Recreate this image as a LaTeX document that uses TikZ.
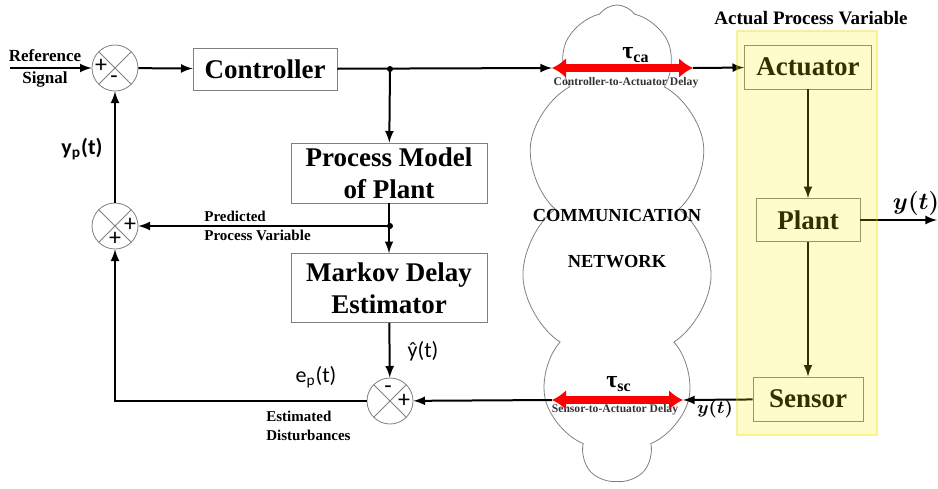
\documentclass[tikz,border=0pt]{standalone}
\usepackage{fontspec}
\setmainfont{Liberation Serif}
\newfontfamily\calib{Carlito}
\usepackage{bm}
\usetikzlibrary{arrows,arrows.meta,positioning,shapes,shapes.symbols}

\begin{document}
\begin{tikzpicture}[x=0.5pt,y=-0.5pt,
            block/.style={draw=gray,rectangle,inner sep=0pt,align=center,font=\fontsize{13.5}{16}\selectfont\bfseries},
            sumnode/.style={draw=gray,circle,minimum size=23pt,inner sep=0pt,
              path picture={\draw[gray] (path picture bounding box.north west) -- (path picture bounding box.south east)
                (path picture bounding box.north east) -- (path picture bounding box.south west);}},
            sgn/.style={inner sep=0pt,font=\calib\fontsize{12}{12}\selectfont},
            lab/.style={inner sep=0pt,align=left,font=\fontsize{7.5}{9.5}\selectfont\bfseries},
            sig/.style={inner sep=0pt,font=\calib\fontsize{11}{12}\selectfont},
            tiny/.style={inner sep=0pt,font=\fontsize{5.8}{7}\selectfont\bfseries,text=black!80},
            taulab/.style={inner sep=0pt,font=\fontsize{12}{12}\selectfont\bfseries},
            conn/.style={draw,line width=1pt,->,>=latex},
            delay/.style={draw=red,line width=4pt,{Latex[length=7pt,width=10pt]}-{Latex[length=7pt,width=10pt]}}
          ]
          \useasboundingbox (0,0) rectangle (938,488);

          % network cloud
          \node[cloud,draw=gray,cloud puffs=11,cloud puff arc=110,aspect=0.38,minimum width=95pt,minimum height=238pt,inner sep=0pt] (net) at (617,243) {};
          \node[font=\fontsize{9.2}{10}\selectfont\bfseries,inner sep=0pt] (comm) at (617,215) {COMMUNICATION};
          \node[font=\fontsize{9.2}{10}\selectfont\bfseries,inner sep=0pt] (netw) at (617,262) {NETWORK};

          % controller side
          \node[sumnode] (s1) at (115,68) {};
          \node[sumnode] (s2) at (115,226) {};
          \node[sumnode] (s3) at (390,401) {};
          \node[block,minimum width=72pt,minimum height=21pt] (ctrl) at (265,69) {Controller};
          \node[block,minimum width=98pt,minimum height=30pt] (pm) at (389,173) {Process Model\\of Plant};
          \node[block,minimum width=98pt,minimum height=34.5pt] (mde) at (389,288) {Markov Delay\\Estimator};
          \coordinate (j1) at (390,69);
          \coordinate (j2) at (390,226);
          \coordinate (refin) at (10,68);

          % signs
          \node[sgn] (s1a) at (101,66) {+};
          \node[sgn] (s1b) at (114,80) {-};
          \node[sgn] (s2a) at (130,225) {+};
          \node[sgn] (s2b) at (115,239) {+};
          \node[sgn] (s3a) at (388,390) {-};
          \node[sgn] (s3b) at (404,401) {+};

          % plant side
          \node[block,minimum width=63.5pt,minimum height=22pt] (act) at (808,67) {Actuator};
          \node[block,minimum width=52pt,minimum height=21.5pt] (plant) at (808,220) {Plant};
          \node[block,minimum width=55pt,minimum height=22pt] (sens) at (808,399) {Sensor};
          \coordinate (yout) at (937,220);
          \coordinate (ca1) at (552,68);
          \coordinate (ca2) at (693,68);
          \coordinate (sc1) at (552,400);
          \coordinate (sc2) at (683,400);

          %labels
          \node[font=\fontsize{8.5}{11}\selectfont\bfseries,align=center,inner sep=0pt] (ref) at (45,68) {Reference\\Signal};
          \node[sig,font=\calib\bfseries\fontsize{11}{12}\selectfont] (yp) at (82,149) {y\textsubscript{p}(t)};
          \node[lab,anchor=west] (pred) at (204,226) {Predicted\\Process Variable};
          \node[lab,anchor=west] (est) at (266,426) {Estimated\\Disturbances};
          \node[sig] (yhat) at (423,351) {\^{y}(t)};
          \node[sig] (ep) at (316,377) {e\textsubscript{p}(t)};
          \node[font=\fontsize{9.5}{11}\selectfont\bfseries,inner sep=0pt] (apv) at (811,18) {Actual Process Variable};
          \node[inner sep=0pt,font=\fontsize{12}{12}\selectfont] (yt1) at (916,203) {$\bm{y(t)}$};
          \node[inner sep=0pt,font=\fontsize{9.5}{10}\selectfont] (yt2) at (715,409) {$\bm{y(t)}$};
          \node[taulab] (tca) at (636,55) {τ\textsubscript{ca}};
          \node[taulab] (tsc) at (619,384) {τ\textsubscript{sc}};
          \node[tiny] (dca) at (626,83) {Controller-to-Actuator Delay};
          \node[tiny] (dsc) at (615,410) {Sensor-to-Actuator Delay};

          %connections
          \path[conn] (refin) -- (s1);
          \path[conn] (s1) -- (ctrl);
          \path[conn] (ctrl) -- (ca1);
          \path[conn] (j1) -- (pm);
          \path[conn] (pm) -- (mde);
          \path[conn] (j2) -- (s2);
          \path[conn] (s2) -- (s1);
          \path[conn] (mde) -- (s3);
          \path[conn] (sc1) -- (s3);
          \path[conn] (s3.west) -| (s2.south);
          \path[conn] (ca2) -- (act);
          \path[conn] (act) -- (plant);
          \path[conn] (plant) -- (sens);
          \path[conn] (plant) -- (yout);
          \path[conn] (sens) -- (sc2);
          \fill (j1) circle (3);
          \fill (j2) circle (3);
          \path[delay] (ca1) -- (ca2);
          \path[delay] (sc1) -- (sc2);

          % highlighted process
          \fill[yellow,fill opacity=0.2] (737,31) rectangle (877,435);
          \draw[yellow!80!olive,draw opacity=0.35,line width=0.8pt] (737,31) rectangle (877,435);
      \end{tikzpicture}
\end{document}
